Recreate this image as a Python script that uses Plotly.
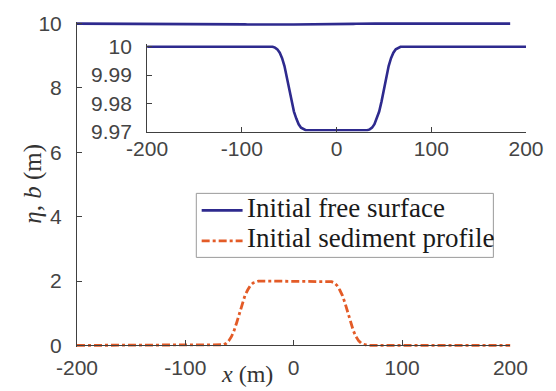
import plotly.graph_objects as go

# ---- data ----
x_m = [-200, -100, -75, -70, -67.5, -65, -62.5, -60, -57.5, -55, -52.5, -50,
       -47.5, -45, -42.5, -40, -37.5, -35, -32.5, -30, -20, 0, 20,
       30, 32.5, 35, 37.5, 40, 42.5, 45, 47.5, 50, 52.5, 55, 57.5, 60,
       62.5, 65, 67.5, 70, 75, 100, 200]

eta = [10.0, 10.0, 10.0, 10.0, 10.0, 9.9997, 9.9991, 9.9979, 9.9960, 9.9932, 9.9894, 9.9853,
       9.9807, 9.9771, 9.9746, 9.9726, 9.9714, 9.9708, 9.9705, 9.9705, 9.9705, 9.9705, 9.9705,
       9.9705, 9.9705, 9.9708, 9.9714, 9.9726, 9.9746, 9.9771, 9.9807, 9.9853, 9.9894, 9.9932, 9.9960, 9.9979,
       9.9991, 9.9997, 10.0, 10.0, 10.0, 10.0, 10.0]

bed = [0.0, 0.0, 0.0, 0.0, 0.003, 0.02, 0.06, 0.14, 0.27, 0.46, 0.72, 1.0,
       1.3, 1.55, 1.72, 1.86, 1.94, 1.98, 1.998, 2.0, 2.0, 2.0, 2.0,
       2.0, 1.998, 1.98, 1.94, 1.86, 1.72, 1.55, 1.3, 1.0, 0.72, 0.46, 0.27, 0.14,
       0.06, 0.02, 0.003, 0.0, 0.0, 0.0, 0.0]

series_names = ["Initial free surface", "Initial sediment profile"]

x_ticks = [-200, -100, 0, 100, 200]
x_tick_text = ["-200", "-100", "0", "100", "200"]
y_ticks = [0, 2, 4, 6, 8, 10]
inset_y_ticks = [9.97, 9.98, 9.99, 10.0]
inset_y_text = ["9.97", "9.98", "9.99", "10"]

BLUE = "#2E2A8E"
ORANGE = "#E35B27"
DASHDOT = "8px,3px,3px,3px"
AX = "#404040"
TICKFONT = dict(family="Liberation Sans, Arial, sans-serif", size=21, color="#444444")
SERIF = "Liberation Serif, Times New Roman, serif"

fig = go.Figure()
fig.add_trace(go.Scatter(x=x_m, y=eta, mode="lines", name=series_names[0], showlegend=False,
                         line=dict(color=BLUE, width=2.6), xaxis="x", yaxis="y"))
fig.add_trace(go.Scatter(x=x_m, y=bed, mode="lines", name=series_names[1], showlegend=False,
                         line=dict(color=ORANGE, width=2.8, dash=DASHDOT),
                         xaxis="x", yaxis="y"))
fig.add_trace(go.Scatter(x=x_m, y=eta, mode="lines", showlegend=False,
                         line=dict(color=BLUE, width=2.6), xaxis="x2", yaxis="y2"))

W, H = 556, 391
L, R, T, B = 77, 18, 17, 44
pw = W - L - R
ph = H - T - B

def px_to_paper_x(px):
    return (px - L) / pw

def px_to_paper_y(py):
    return (H - B - py) / ph

ymin, ymax = -0.05, 10.05

# legend box (drawn as shapes + text)
lg_l, lg_r, lg_t, lg_b = 199.5, 504.5, 191, 256
legend_shapes = [
    dict(type="rect", xref="paper", yref="paper",
         x0=px_to_paper_x(lg_l), x1=px_to_paper_x(lg_r),
         y0=px_to_paper_y(lg_b), y1=px_to_paper_y(lg_t),
         fillcolor="white", line=dict(color="#9A9A9A", width=1), layer="above"),
    dict(type="line", xref="paper", yref="paper",
         x0=px_to_paper_x(205), x1=px_to_paper_x(247),
         y0=px_to_paper_y(208.3), y1=px_to_paper_y(208.3),
         line=dict(color=BLUE, width=2.6), layer="above"),
    dict(type="line", xref="paper", yref="paper",
         x0=px_to_paper_x(205), x1=px_to_paper_x(247),
         y0=px_to_paper_y(239.3), y1=px_to_paper_y(239.3),
         line=dict(color=ORANGE, width=2.8, dash=DASHDOT), layer="above"),
]
legend_text = [
    dict(text=series_names[0], xref="paper", yref="paper",
         x=px_to_paper_x(249), y=px_to_paper_y(206), xanchor="left", yanchor="middle",
         showarrow=False, font=dict(family=SERIF, size=27, color="#1a1a1a")),
    dict(text=series_names[1], xref="paper", yref="paper",
         x=px_to_paper_x(249), y=px_to_paper_y(236), xanchor="left", yanchor="middle",
         showarrow=False, font=dict(family=SERIF, size=27, color="#1a1a1a")),
]

fig.update_layout(
    width=W, height=H,
    margin=dict(l=L, r=R, t=T, b=B, pad=0),
    paper_bgcolor="white", plot_bgcolor="rgba(0,0,0,0)",
    showlegend=False,
    shapes=legend_shapes,
    xaxis=dict(domain=[0, px_to_paper_x(522)], range=[-200, 200], tickvals=x_ticks,
               ticktext=x_tick_text,
               ticks="inside", ticklen=5, tickcolor=AX, showline=True, linecolor=AX,
               linewidth=1, showgrid=False, zeroline=False, tickfont=TICKFONT,
               anchor="free", position=(0 - ymin) / (ymax - ymin), ticklabelstandoff=3),
    yaxis=dict(domain=[0, 1], range=[ymin, ymax], tickvals=y_ticks,
               ticks="inside", ticklen=5, tickcolor=AX, showline=True, linecolor=AX,
               linewidth=1, showgrid=False, zeroline=False, tickfont=TICKFONT,
               ticklabelstandoff=10),
    xaxis2=dict(domain=[px_to_paper_x(149), 1], range=[-200, 200], tickvals=x_ticks,
                ticktext=x_tick_text,
                ticks="inside", ticklen=5, tickcolor=AX, showline=True, linecolor=AX,
                linewidth=1, showgrid=False, zeroline=False, tickfont=TICKFONT,
                anchor="y2", ticklabelstandoff=-2),
    yaxis2=dict(domain=[px_to_paper_y(128.3), px_to_paper_y(39.3)], range=[9.97, 10.001],
                tickvals=inset_y_ticks, ticktext=inset_y_text,
                ticks="inside", ticklen=5, tickcolor=AX, showline=True, linecolor=AX,
                linewidth=1, showgrid=False, zeroline=False, tickfont=TICKFONT,
                anchor="x2", ticklabelstandoff=10),
    annotations=legend_text + [
        dict(text="<i>x</i> (m)", xref="paper", yref="paper",
             x=px_to_paper_x(252), y=px_to_paper_y(374.5), xanchor="center", yanchor="middle",
             showarrow=False, font=dict(family=SERIF, size=24, color="#333333")),
        dict(text="<i>η</i>, <i>b</i> (m)", xref="paper", yref="paper",
             x=px_to_paper_x(31), y=px_to_paper_y(181), xanchor="center", yanchor="middle",
             textangle=-90, showarrow=False, font=dict(family=SERIF, size=25, color="#333333")),
    ],
)

fig.write_html("out.html")
